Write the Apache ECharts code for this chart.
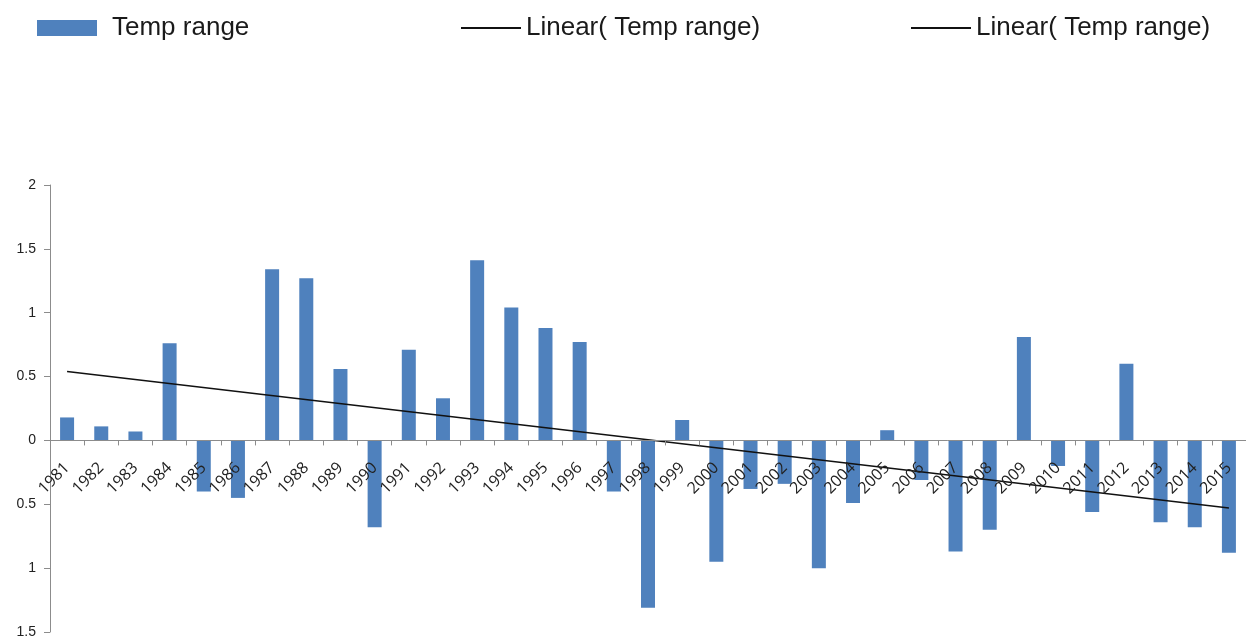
<!DOCTYPE html>
<html>
<head>
<meta charset="utf-8">
<script src="https://cdn.jsdelivr.net/npm/echarts@6/dist/echarts.min.js"></script>
<style>
html,body{margin:0;padding:0;background:#fff;}
#chart{width:1246px;height:638px;}
</style>
</head>
<body>
<div id="chart"></div>
<script>
var years = ['1981','1982','1983','1984','1985','1986','1987','1988','1989','1990',
  '1991','1992','1993','1994','1995','1996','1997','1998','1999','2000',
  '2001','2002','2003','2004','2005','2006','2007','2008','2009','2010',
  '2011','2012','2013','2014','2015'];
var tempRange = [0.18,0.11,0.07,0.76,-0.40,-0.45,1.34,1.27,0.56,-0.68,
  0.71,0.33,1.41,1.04,0.88,0.77,-0.40,-1.31,0.16,-0.95,
  -0.38,-0.34,-1.00,-0.49,0.08,-0.31,-0.87,-0.70,0.81,-0.20,
  -0.56,0.60,-0.64,-0.68,-0.88];
var trendStart = ['1981', 0.54];
var trendEnd = ['2015', -0.53];
var barName = 'Temp range';
var lineName = 'Linear( Temp range)';
var yMin = -1.5, yMax = 2, yStep = 0.5;

var gridTop = 185, gridBottom = 6, chartH = 638;
var plotH = chartH - gridTop - gridBottom;
// lift the category axis from the grid bottom up to the value 0
var zeroOffset = -plotH * (0 - yMin) / (yMax - yMin);

var chart = echarts.init(document.getElementById('chart'));
var legendText = {fontFamily:'Liberation Sans, Arial, sans-serif', fontSize:26, color:'#1a1a1a'};
chart.setOption({
  animation:false,
  legend:[
    {left:37, top:15, padding:0, itemWidth:60, itemHeight:16, data:[{name:barName, icon:'rect'}],
     textStyle:Object.assign({padding:[0,0,0,10]}, legendText), selectedMode:false},
    {left:461, top:15, padding:0, itemWidth:60, itemHeight:2, data:[{name:lineName, icon:'rect'}],
     textStyle:legendText, selectedMode:false},
    {left:911, top:15, padding:0, itemWidth:60, itemHeight:2, data:[{name:lineName, icon:'rect'}],
     textStyle:legendText, selectedMode:false}
  ],
  grid:{left:50, right:0, top:gridTop, bottom:gridBottom, containLabel:false, outerBoundsMode:'none'},
  xAxis:{
    type:'category', data:years, boundaryGap:true, position:'bottom', offset:zeroOffset, z:10,
    axisLine:{onZero:false, lineStyle:{color:'#8c8c8c', width:1}},
    axisTick:{show:true, alignWithLabel:false, length:5, inside:false, lineStyle:{color:'#8c8c8c'}},
    axisLabel:{rotate:45, interval:0, margin:25, fontFamily:'Open Sans, sans-serif', fontSize:16, color:'#222'}
  },
  yAxis:{
    type:'value', min:yMin, max:yMax, interval:yStep,
    splitLine:{show:false},
    axisLine:{show:true, lineStyle:{color:'#8c8c8c', width:1}},
    axisTick:{show:true, length:6, lineStyle:{color:'#8c8c8c'}},
    axisLabel:{margin:14, fontFamily:'Liberation Sans, Arial, sans-serif', fontSize:14, color:'#222',
      formatter:function(v){return String(Math.abs(v));}}
  },
  series:[
    {name:barName, type:'bar', data:tempRange, barWidth:14, itemStyle:{color:'#4f81bd'}},
    {name:lineName, type:'line', data:[trendStart, trendEnd], symbol:'none',
     lineStyle:{color:'#111', width:1.5}, itemStyle:{color:'#111'}, z:5}
  ]
});
</script>
</body>
</html>
